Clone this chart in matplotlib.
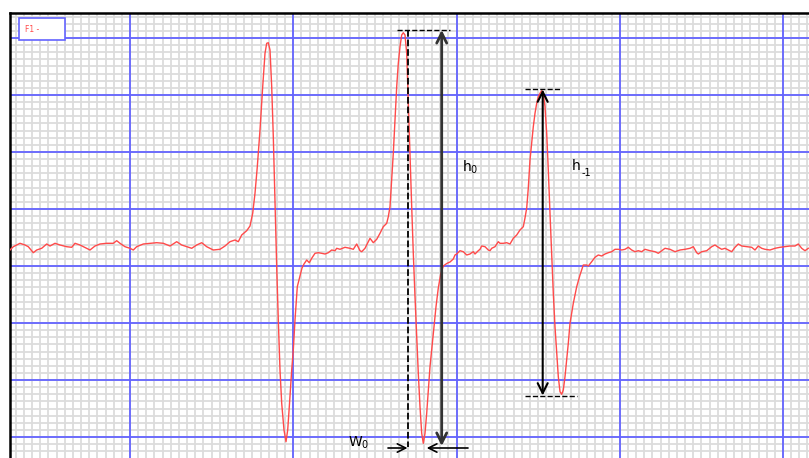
import numpy as np
import matplotlib.pyplot as plt
from matplotlib.patches import Rectangle
from matplotlib.ticker import MultipleLocator

# campo (unidades arbitrarias) e sinal EPR (derivada)
field = [
    10, 13.3, 20, 25, 28.3, 33.3, 36.7, 41.7, 46.7, 50, 55, 60, 66.7, 71.7, 75, 80, 86.7, 90, 95, 100,
    106.7, 113.3, 116.7, 120, 125, 130, 133.3, 136.7, 143.3, 150, 156.7, 163.3, 170, 176.7, 181.7,
    186.7, 191.7, 196.7, 201.7, 206.7, 213.3, 220, 225, 230, 235, 238.3, 241.7, 246.7, 250,
    # linha 1
    252.7, 255, 257.3, 260, 262.7, 265, 266.7, 268.3, 270, 271.7, 273.3, 275, 276.7, 278.3, 280,
    281.7, 284, 286, 287.7, 289.3, 291.7, 293.3, 295, 297.3, 300, 302, 304, 306.7, 309.3, 311.7,
    315, 318.3, 321.7, 325, 328.3, 331.7, 335, 336.7, 340, 345, 350, 353.3, 356.7, 360, 361.7,
    365, 368.3, 370, 373.3, 376.7, 380,
    # linha 2
    383.3, 386.7, 388.3, 390, 391.7, 393.3, 395, 396.7, 398.3, 400, 401.7, 403.3, 405, 406.7,
    408.3, 410, 411.7, 413.3, 415, 416.7, 418.3, 420, 421.7, 423.3, 425, 426.7, 428.3, 430,
    433.3, 436, 438.3, 440.7, 443.3, 446.7, 450, 453.3, 455, 456.7, 460,
    463.3, 466.7, 470, 471.7, 473.3, 475, 478.3, 480, 481.7, 485, 488.3, 490, 491.7, 495, 498.3,
    500, 503.3, 506.7, 510,
    # linha 3
    513.3, 516.7, 520, 523.3, 525, 526.7, 528.3, 530, 531.7, 533.3, 535, 536.7, 538.3, 540,
    541.7, 543.3, 545, 546.7, 548.3, 550, 551.7, 553.3, 555, 556.7, 558.3, 560, 561.7, 563.3,
    565, 566.7, 568.3, 570, 573.3, 576.7, 580, 583.3, 586.7, 588.3, 591.7, 595, 598.3,
    601.7, 605, 608.3, 611.7, 615, 618.3, 621.7, 625, 628.3, 631.7, 635, 638.3, 641.7, 645, 650,
    655, 658.3, 661.7, 665, 670, 675, 680, 685, 690, 693.3, 696.7, 698.3, 701.7, 706.7, 711.7,
    715, 718.3, 721.7, 725, 728.3, 731.7, 735, 738.3, 741.7, 746.7, 751.7, 755, 758.3, 761.7,
    765, 770, 775, 780, 785, 790, 795, 798.3, 801.7, 805, 808.3,
]
signal = [
    -5, -1.7, 1.7, 0, -1.7, -7.7, -5, -3.3, 1, -1, 1.7, 0, -1.7, -2.3, 1.7, 0, -3.3, -5, -1, 1,
    1.7, 1.7, 4.3, 1.7, -1.7, -3.3, -5, -1.7, 1, 1.7, 2.3, 1.7, -1, 3.3, 0,
    -1.7, -3.3, 0, 2.3, -1.7, -5, -4.3, -1, 3.3, 5, 3.3, 10, 14.3, 19,
    31.7, 51.7, 78.3, 115, 158.3, 191.7, 201.7, 202.3, 195, 158.3, 108.3, 41.7, -21.7, -75, -125,
    -158.3, -185, -196.7, -185, -161.7, -125, -105, -75, -41.7, -31, -23, -19, -15, -17.7, -13.3,
    -8.3, -7.7, -8.3, -9, -7.7, -5, -5.7, -3.3, -4.3, -2.3, -3.3, -4.3, 1, -5.7, -6.7,
    -3.3, 3.3, 6.7, 2.3, 5.7, 11.7,
    18.3, 21.7, 28.3, 38.3, 65, 91.7, 125, 158.3, 181.7, 198.3, 210, 212.3, 210, 191.7,
    141.7, 91.7, 38.3, -8.3, -51.7, -91.7, -128.3, -161.7, -188.3, -198.3, -188.3, -168.3, -145, -121.7,
    -88.3, -61.7, -43, -29, -21, -18.5, -17, -14, -10, -9, -5.7,
    -6.7, -10, -9, -7.7, -6.7, -9, -5.7, -4.3, -1, -1.7, -5, -5.7, -3.3, -1.7, 3.3,
    1.7, 1.7, 2.3, 1,
    6.7, 10, 15, 18.3, 27, 37, 57, 85, 101.7, 118.3, 131.7, 141.7, 148.3, 151.7,
    154.3, 151.7, 138.3, 111.7, 75, 31.7, -8.3, -48.3, -81.7, -108.3, -131.7, -146.7, -149.3, -145,
    -131.7, -115, -98.3, -78.3, -58.3, -41.7, -30, -20, -20, -21, -16.7, -12.3, -10,
    -11, -9, -7.7, -6.7, -4.3, -4.3, -5, -4.3, -2.3, -5, -6.7, -5.7, -6.7, -4.3, -5.7,
    -6.7, -8.3, -5.7, -3.3, -4.3, -6.7, -5, -4.3, -3.3, -1.7, -7.7, -9, -6.7, -5.7, -1.7,
    0, -2.3, -4.3, -3.3, -5, -6.7, -2.3, 1, -1, -1.7, -2.3, -5, -1, -3.3,
    -4.3, -5, -3.3, -2.3, -1.7, -1, -1, 1, -3.3, -5.7, -3.3,
]

# marcas de medida (h0, h-1, W0)
h0_x, h0_top, h0_bot = 441.7, 215, -201
hm1_x, hm1_top, hm1_bot = 542.7, 155.5, -150.5
w0_peak, w0_trough, w0_y = 407.5, 426.7, -203


def main():
    fig = plt.figure(figsize=(8.09, 4.58), dpi=100)
    ax = fig.add_axes([10 / 809, 0, 799 / 809, 445 / 458])

    # papel milimetrado
    ax.set_xlim(10, 809)
    ax.set_ylim(-213, 232)
    ax.xaxis.set_minor_locator(MultipleLocator(163.25 / 20, offset=130))
    ax.yaxis.set_minor_locator(MultipleLocator(57 / 8, offset=-21))
    ax.set_xticks([])
    ax.set_yticks([])
    ax.grid(True, which="minor", color="#dcdcdc", linewidth=1.3)
    ax.set_axisbelow(True)
    ax.tick_params(which="both", length=0, labelbottom=False, labelleft=False)
    for xv in np.arange(130, 809, 163.25):
        ax.axvline(xv, color="#6464ff", linewidth=1.3, zorder=1.5)
    for yv in np.arange(-192, 232, 57):
        ax.axhline(yv, color="#6464ff", linewidth=1.3, zorder=1.5)
    for s in ["right", "bottom"]:
        ax.spines[s].set_visible(False)
    ax.spines["top"].set_linewidth(1.8)
    ax.spines["left"].set_linewidth(1.8)

    ax.plot(field, signal, color="#ff4a4a", linewidth=1.0, zorder=3)

    # h0
    ax.plot([396.7, 450], [h0_top, h0_top], "k--", linewidth=1, zorder=4)
    ax.plot([w0_peak, w0_peak], [h0_top, -201.7], "k--", linewidth=1.3, zorder=4)
    ax.annotate("", xy=(h0_x, h0_top), xytext=(h0_x, h0_bot),
                arrowprops=dict(arrowstyle="<->", color="#333333", lw=2, mutation_scale=18,
                                shrinkA=0, shrinkB=0), zorder=5)
    ax.text(462, 78, r"$\mathregular{h_0}$", fontsize=10, ha="left", va="center")

    # h-1
    ax.plot([525, 560], [hm1_top, hm1_top], "k--", linewidth=1, zorder=4)
    ax.plot([525, 576.7], [hm1_bot, hm1_bot], "k--", linewidth=1, zorder=4)
    ax.annotate("", xy=(hm1_x, hm1_top), xytext=(hm1_x, hm1_bot),
                arrowprops=dict(arrowstyle="<->", color="black", lw=1.5, mutation_scale=18,
                                shrinkA=0, shrinkB=0), zorder=5)
    ax.text(572, 79, "h", fontsize=10, ha="left", va="center")
    ax.text(581.5, 72, "-1", fontsize=7, ha="left", va="center")

    # W0
    ax.annotate("", xy=(w0_peak, w0_y), xytext=(388, w0_y),
                arrowprops=dict(arrowstyle="->", color="black", lw=1.2, mutation_scale=15,
                                shrinkA=0, shrinkB=0), zorder=5)
    ax.annotate("", xy=(w0_trough, w0_y), xytext=(468, w0_y),
                arrowprops=dict(arrowstyle="->", color="black", lw=1.2, mutation_scale=15,
                                shrinkA=0, shrinkB=0), zorder=5)
    ax.text(348, -198, r"$\mathregular{W_0}$", fontsize=10, ha="left", va="center")

    # caixa "F1"
    ax.add_patch(Rectangle((19, 205), 46, 22, facecolor="white", edgecolor="#6464ff",
                           linewidth=1.2, zorder=6))
    ax.text(25, 215, "F1 -", color="#ff4a4a", fontsize=5.5, ha="left", va="center", zorder=7)

    fig.savefig("out.png", dpi=100)


if __name__ == "__main__":
    main()
